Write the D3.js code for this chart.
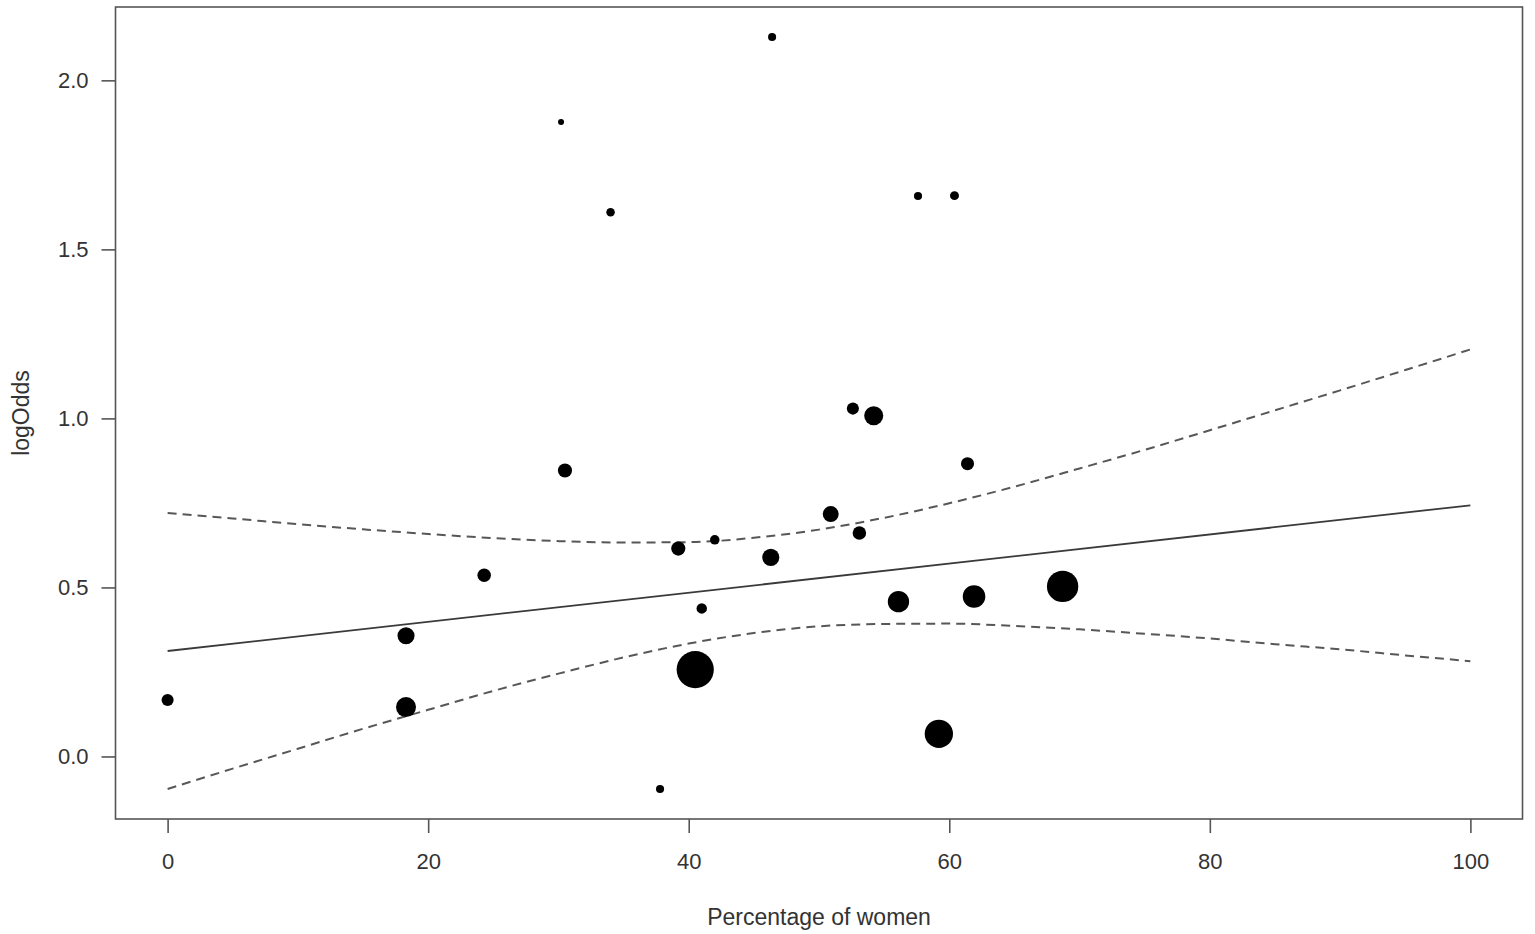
<!DOCTYPE html>
<html>
<head>
<meta charset="utf-8">
<script src="https://cdn.jsdelivr.net/npm/d3@7"></script>
<style>
body{margin:0;background:#fff;}
</style>
</head>
<body>
<script>
// studies: percentage of women vs log odds, dot size = study weight
var pctWomen=[0,18.3,18.3,24.3,30.2,30.5,34.0,37.8,39.2,40.5,41.0,42.0,46.3,46.4,50.9,52.6,53.1,54.2,56.1,57.6,59.2,60.4,61.4,61.9,68.7];
var logOdds=[0.167,0.357,0.146,0.536,1.877,0.846,1.610,-0.096,0.615,0.257,0.438,0.641,0.589,2.128,0.717,1.029,0.661,1.008,0.458,1.658,0.067,1.659,0.866,0.473,0.503];
var weights=[4,8,11,5,1,5.5,2,1.8,5.5,38,3,2.5,8,1.8,7,4,5,10,12.5,1.8,22,2.2,4.7,14,27];

// fitted line and confidence band, read at every 5 %
var bandX=[0,5,10,15,20,25,30,35,40,45,50,55,60,65,70,75,80,85,90,95,100];
var bandUpper=[0.720,0.704,0.687,0.672,0.658,0.646,0.637,0.633,0.634,0.647,0.671,0.706,0.749,0.798,0.852,0.907,0.965,1.024,1.083,1.143,1.204];
var bandLower=[-0.096,-0.036,0.023,0.082,0.138,0.194,0.245,0.293,0.334,0.365,0.385,0.392,0.393,0.386,0.376,0.363,0.349,0.332,0.317,0.299,0.282];
var fitX=[0,100];
var fitY=[0.312,0.743];

var xTicks=[0,20,40,60,80,100];
var yTicks=[0.0,0.5,1.0,1.5,2.0];

var width=1535;
var height=934;
var font="'Liberation Sans', Arial, Helvetica, sans-serif";

var svg=d3.select("body").append("svg")
          .attr("width",width)
          .attr("height",height);

var ymin=d3.min(logOdds), ymax=d3.max(logOdds);
var yr=ymax-ymin;

var x=d3.scaleLinear().domain([-4,104]).range([115.5,1522.5]);
var y=d3.scaleLinear().domain([ymin-0.04*yr,ymax+0.04*yr]).range([819,7]);
var r=d3.scaleSqrt().domain([0,d3.max(weights)]).range([0,18.6]);

// band lines
var bandLine=d3.line()
  .x(function(d){ return x(d[0]); })
  .y(function(d){ return y(d[1]); })
  .curve(d3.curveMonotoneX);

[bandUpper,bandLower].forEach(function(arr){
  svg.append("path")
     .datum(bandX.map(function(v,i){ return [v,arr[i]]; }))
     .attr("d",bandLine)
     .attr("fill","none")
     .attr("stroke","#575757")
     .attr("stroke-width",2)
     .attr("stroke-dasharray","9,6");
});

svg.append("path")
   .datum(fitX.map(function(v,i){ return [v,fitY[i]]; }))
   .attr("d",d3.line().x(function(d){ return x(d[0]); }).y(function(d){ return y(d[1]); }))
   .attr("fill","none")
   .attr("stroke","#3a3a3a")
   .attr("stroke-width",1.8);

// points
svg.selectAll("circle.pt")
   .data(pctWomen)
   .enter()
   .append("circle")
   .attr("class","pt")
   .attr("cx",function(d){ return x(d); })
   .attr("cy",function(d,i){ return y(logOdds[i]); })
   .attr("r",function(d,i){ return r(weights[i]); })
   .attr("fill","#000");

// box
svg.append("rect")
   .attr("x",x.range()[0])
   .attr("y",y.range()[1])
   .attr("width",x.range()[1]-x.range()[0])
   .attr("height",y.range()[0]-y.range()[1])
   .attr("fill","none")
   .attr("stroke","#555")
   .attr("stroke-width",1.6);

// axes
var xAxis=svg.append("g")
   .attr("transform","translate(0,"+y.range()[0]+")")
   .call(d3.axisBottom(x).tickValues(xTicks).tickSize(14).tickPadding(20).tickFormat(d3.format("d")));
var yAxis=svg.append("g")
   .attr("transform","translate("+x.range()[0]+",0)")
   .call(d3.axisLeft(y).tickValues(yTicks).tickSize(14).tickPadding(13).tickFormat(d3.format(".1f")));

[xAxis,yAxis].forEach(function(g){
  g.select(".domain").remove();
  g.selectAll(".tick line").attr("stroke","#555").attr("stroke-width",1.6);
  g.selectAll(".tick text")
   .attr("fill","#333")
   .attr("font-size",22)
   .attr("font-family",font);
});

svg.append("text")
   .text("Percentage of women")
   .attr("x",(x.range()[0]+x.range()[1])/2)
   .attr("y",925)
   .attr("text-anchor","middle")
   .attr("fill","#333")
   .attr("font-size",23)
   .attr("font-family",font);

svg.append("text")
   .text("logOdds")
   .attr("transform","translate(29,"+((y.range()[0]+y.range()[1])/2)+") rotate(-90)")
   .attr("text-anchor","middle")
   .attr("fill","#333")
   .attr("font-size",23)
   .attr("font-family",font);
</script>
</body>
</html>
